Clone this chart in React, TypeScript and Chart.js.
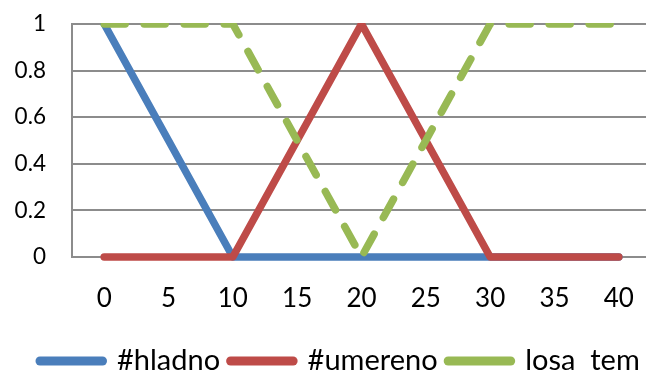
import { useEffect, useRef } from 'react';
import { Chart, registerables } from 'chart.js';

Chart.register(...registerables);

// Temperature categories on the x axis
const categories = ['0', '5', '10', '15', '20', '25', '30', '35', '40'];

// Membership values per category
const hladno = [1, 0.5, 0, 0, 0, 0, 0, 0, 0];
const umereno = [0, 0, 0, 0.5, 1, 0.5, 0, 0, 0];
const losaTem = [1, 1, 1, 0.5, 0, 0.5, 1, 1, 1];

// Y axis tick labels, bottom to top
const yTickLabels = ['0', '0.2', '0.4', '0.6', '0.8', '1'];

const seriesNames = ['#hladno', '#umereno', 'losa  tem'];

const BLUE = '#4A7EBB';
const RED = '#BE4B48';
const GREEN = '#98B954';
const GRID = '#8c8c8c';
const FONT = "Lato, 'Open Sans', sans-serif";
const CLEAR = 'rgba(0,0,0,0)';

// Moves the legend row to the right so it starts under the y axis labels.
const legendShift = {
  id: 'legendShift',
  afterLayout(chart: any) {
    const lg = chart.legend;
    if (!lg) return;
    lg.left += 29.5;
    lg.right += 29.5;
  },
};

export default function App() {
  const canvasRef = useRef<HTMLCanvasElement | null>(null);

  useEffect(() => {
    const canvas = canvasRef.current;
    if (!canvas) return;

    const common = {
      pointRadius: 0,
      pointHoverRadius: 0,
      tension: 0,
      borderWidth: 7.5,
      borderCapStyle: 'round' as const,
      borderJoinStyle: 'round' as const,
      fill: false,
      clip: { left: 10, right: 10, top: 1, bottom: 10 },
    };

    // Drawn bottom-up: blue first, red above it, green dashes on top.
    const chart = new Chart(canvas, {
      type: 'line',
      plugins: [legendShift],
      data: {
        labels: categories,
        datasets: [
          {
            ...common,
            label: seriesNames[2],
            data: losaTem,
            borderColor: GREEN,
            backgroundColor: GREEN,
            borderDash: [21, 19],
          },
          {
            ...common,
            label: seriesNames[1],
            data: umereno,
            borderColor: RED,
            backgroundColor: RED,
          },
          {
            ...common,
            label: seriesNames[0],
            data: hladno,
            borderColor: BLUE,
            backgroundColor: BLUE,
          },
        ],
      },
      options: {
        animation: false,
        responsive: false,
        maintainAspectRatio: false,
        events: [],
        layout: {
          padding: { left: 0, right: 9, top: 24, bottom: -13.5 },
        },
        scales: {
          x: {
            offset: true,
            grid: { display: true, color: CLEAR, drawTicks: true, tickLength: 26, tickColor: CLEAR },
            border: { display: false },
            ticks: {
              color: '#000',
              padding: 0,
              maxRotation: 0,
              autoSkip: false,
              font: { family: FONT, size: 26 },
            },
            afterFit: (scale: any) => {
              scale.height = 79;
            },
          },
          y: {
            min: 0,
            max: 1,
            ticks: {
              stepSize: 0.2,
              color: '#000',
              padding: 0,
              font: { family: FONT, size: 22.5 },
              callback: (_v: any, i: number) => yTickLabels[i],
            },
            grid: { color: GRID, lineWidth: 2, drawTicks: true, tickLength: 26, tickColor: CLEAR },
            border: { display: true, color: GRID, width: 2 },
            afterFit: (scale: any) => {
              scale.width = 72;
            },
          },
        },
        plugins: {
          tooltip: { enabled: false },
          legend: {
            position: 'bottom',
            align: 'start',
            labels: {
              color: '#000',
              font: { family: FONT, size: 29 },
              padding: 10.5,
              usePointStyle: true,
              pointStyle: 'line',
              pointStyleWidth: 62.5,
              generateLabels: (c: any) => {
                const items = Chart.defaults.plugins.legend.labels.generateLabels(c);
                return items.map((it: any) => ({
                  ...it,
                  pointStyle: 'line',
                  lineWidth: 9,
                  lineCap: 'round',
                  lineDash: it.lineDash && it.lineDash.length ? [24, 16] : [],
                }));
              },
              sort: (a: any, b: any) => b.datasetIndex - a.datasetIndex,
            },
          },
        },
      },
    });

    return () => chart.destroy();
  }, []);

  return (
    <div
      style={{
        position: 'fixed',
        left: 0,
        top: 0,
        width: 646,
        height: 372,
        overflow: 'hidden',
        background: '#fff',
      }}
    >
      <canvas ref={canvasRef} width={660} height={372} style={{ display: 'block' }} />
    </div>
  );
}
